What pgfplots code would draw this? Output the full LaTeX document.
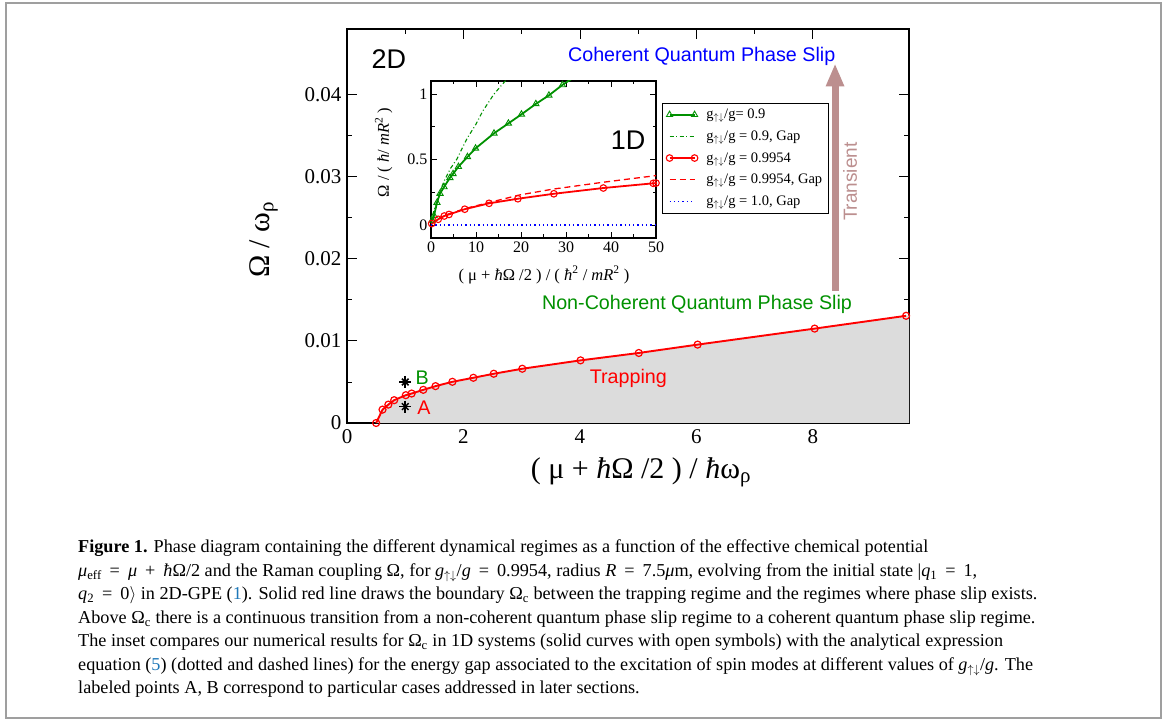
\documentclass[border=0pt]{standalone}
\usepackage{fontspec}
\setmainfont{Liberation Serif}
\newfontfamily\hv{Liberation Sans}
\usepackage{pgfplots}
\pgfplotsset{compat=1.18}
\usetikzlibrary{arrows.meta}
\definecolor{myred}{RGB}{255,0,0}
\definecolor{mygreen}{RGB}{0,145,0}
\definecolor{myblue}{RGB}{0,0,255}
\definecolor{rosy}{RGB}{188,143,143}
\definecolor{fillgray}{RGB}{220,220,220}
\definecolor{linkblue}{RGB}{30,120,185}
\newcommand{\fs}[1]{\fontsize{#1pt}{#1pt}\selectfont}
\newcommand{\hb}{\textit{ħ}}
\newcommand{\eq}{\hspace{8pt}=\hspace{8pt}}
\newcommand{\pl}{\hspace{8pt}+\hspace{8pt}}
\pgfplotsset{
 marklegend/.style={legend image code/.code={\draw[##1] plot coordinates {(0pt,0pt) (25pt,0pt)}; \path (34pt,0pt);}},
 linelegend/.style={legend image code/.code={\draw[##1] (0pt,0pt) -- (25pt,0pt); \path (34pt,0pt);}},
}
\begin{document}
\begin{tikzpicture}
\useasboundingbox (0,0) rectangle (1165pt,720pt);
\fill[white] (0,0) rectangle (1165pt,720pt);
\draw[gray!75, line width=2pt] (6pt,2pt) rectangle (1161pt,717pt);

% ---------------- main axis ----------------
\begin{axis}[
  at={(347pt,297pt)}, anchor=south west,
  width=562pt, height=394pt, scale only axis,
  xmin=0, xmax=9.65, ymin=0, ymax=0.048,
  xtick={0,2,4,6,8}, minor x tick num=1,
  ytick={0,0.01,0.02,0.03,0.04}, minor y tick num=1,
  yticklabels={0,0.01,0.02,0.03,0.04},
  xticklabels={0,2,4,6,8},
  scaled y ticks=false,
  tick align=inside,
  major tick length=10pt, minor tick length=5pt,
  every tick/.style={black, line width=0.9pt},
  axis line style={line width=1.1pt},
  ticklabel style={font=\fs{21}},
  xticklabel style={yshift=-3pt},
  yticklabel style={xshift=-2pt},
  /pgf/number format/assume math mode=true,
  xlabel={( μ + \hb Ω /2 ) / \hb ω\textsubscript{ρ}},
  ylabel={Ω / ω\textsubscript{ρ}},
  label style={font=\fs{30}},
  xlabel style={at={(axis description cs:0.523,-0.125)}, anchor=center},
  ylabel style={at={(axis description cs:-0.148,0.465)}, anchor=center},
  clip=false,
]
\addplot[draw=none, fill=fillgray, forget plot] coordinates {
 (0.5,0) (0.61,0.00163) (0.71,0.00224) (0.81,0.00278) (1.01,0.00339) (1.11,0.00359)
 (1.31,0.00404) (1.52,0.00449) (1.81,0.00502) (2.17,0.00551) (2.52,0.0060)
 (3.01,0.00661) (4.01,0.00763) (5.01,0.00853) (6.02,0.00955) (8.03,0.0115)
 (9.6,0.01306) (9.65,0.0131)} \closedcycle;
\addplot[myred, line width=1.9pt, mark=o, mark size=3.5pt, mark options={fill=white, line width=1.2pt}] coordinates {
 (0.5,0) (0.61,0.00163) (0.71,0.00224) (0.81,0.00278) (1.01,0.00339) (1.11,0.00359)
 (1.31,0.00404) (1.52,0.00449) (1.81,0.00502) (2.17,0.00551) (2.52,0.0060)
 (3.01,0.00661) (4.01,0.00763) (5.01,0.00853) (6.02,0.00955) (8.03,0.0115)
 (9.6,0.01306)};
\addplot[only marks, black, mark=+, mark size=6pt, line width=1.5pt] coordinates {(1.0,0.002) (1.0,0.005)};
\addplot[only marks, black, mark=x, mark size=4.7pt, line width=1.5pt] coordinates {(1.0,0.002) (1.0,0.005)};

\draw[rosy, line width=7pt, -{Triangle[width=17pt,length=23pt]}] (axis cs:8.38,0.01606) -- (axis cs:8.38,0.0438);
\node[font=\hv\fs{27}] at (axis cs:0.72,0.0443) {2D};
\node[font=\hv\fs{19.7}, text=myblue] at (axis cs:6.09,0.0446) {Coherent Quantum Phase Slip};
\node[font=\hv\fs{19.7}, text=mygreen] at (axis cs:6.01,0.01443) {Non-Coherent Quantum Phase Slip};
\node[font=\hv\fs{19.7}, text=myred] at (axis cs:4.83,0.0054) {Trapping};
\node[font=\hv\fs{19.7}, text=myred] at (axis cs:1.32,0.0018) {A};
\node[font=\hv\fs{19.7}, text=mygreen] at (axis cs:1.29,0.0055) {B};
\node[font=\hv\fs{19}, text=rosy, rotate=90] at (axis cs:8.64,0.0294) {Transient};
\end{axis}

% ---------------- inset ----------------
\begin{axis}[
  at={(431pt,482pt)}, anchor=south west,
  width=225pt, height=157pt, scale only axis,
  axis background/.style={fill=white},
  xmin=0, xmax=50, ymin=-0.1, ymax=1.1,
  xtick={0,10,20,30,40,50}, minor x tick num=1,
  ytick={0,0.5,1}, minor y tick num=1,
  yticklabels={0,0.5,1},
  tick align=inside,
  major tick length=6pt, minor tick length=3.5pt,
  every tick/.style={black, line width=0.8pt},
  axis line style={line width=1.1pt},
  ticklabel style={font=\fs{16}},
  /pgf/number format/assume math mode=true,
  xlabel={( μ + \hb Ω /2 ) / ( \hb\textsuperscript{2} / \textit{mR}\textsuperscript{2} )},
  ylabel={Ω / ( \hb/ \textit{mR}\textsuperscript{2} )},
  label style={font=\fs{16.5}},
  xlabel style={at={(axis description cs:0.502,-0.236)}, anchor=center},
  ylabel style={at={(axis description cs:-0.21,0.545)}, anchor=center},
  legend style={at={(1.027,0.86)}, anchor=north west, draw=black, fill=white,
    font=\fs{14.5}, inner xsep=4pt, inner ysep=4pt, row sep=6.5pt},
  legend cell align=left,
]
\addplot[mygreen, line width=1.8pt, mark=triangle, mark size=3.6pt, mark options={fill=white, line width=0.9pt}, marklegend] coordinates {
 (0.25,0.035) (0.67,0.07) (1.33,0.17) (2.0,0.24) (2.9,0.29) (4.2,0.36) (4.9,0.39) (6.1,0.445)
 (8.1,0.52) (9.9,0.585) (14.0,0.70) (17.2,0.776) (20.1,0.845) (23.3,0.925) (26.2,0.99) (29.2,1.07) (32.3,1.14)};
\addlegendentry{g$_{\uparrow\downarrow}$/g= 0.9}
\addplot[mygreen, draw=mygreen, line width=1.1pt, dash pattern=on 4pt off 2.5pt on 1pt off 2.5pt, linelegend] coordinates {
 (0,0) (0.5,0.09) (1,0.15) (2,0.26) (3,0.34) (4.3,0.43) (5.7,0.50) (8,0.66) (10,0.77)
 (11.5,0.87) (14,1.0) (16.5,1.1) (17.5,1.14)};
\addlegendentry{g$_{\uparrow\downarrow}$/g = 0.9, Gap}
\addplot[myred, line width=1.8pt, mark=o, mark size=3.3pt, mark options={fill=white, line width=1.1pt}, marklegend] coordinates {
 (0.15,0.01) (1.6,0.043) (2.95,0.068) (4.0,0.08) (7.5,0.12) (12.9,0.165) (19.3,0.20)
 (27.3,0.238) (38.3,0.282) (49.4,0.318) (50,0.32)};
\addlegendentry{g$_{\uparrow\downarrow}$/g = 0.9954}
\addplot[myred, draw=myred, line width=1.3pt, dash pattern=on 6pt off 4pt, linelegend] coordinates {
 (0,0) (1,0.035) (2,0.055) (4,0.085) (7.6,0.125) (13,0.172) (19.7,0.229) (27,0.273) (38,0.325) (50,0.377)};
\addlegendentry{g$_{\uparrow\downarrow}$/g = 0.9954, Gap}
\addplot[myblue, draw=myblue, line width=1.3pt, dash pattern=on 1.3pt off 3pt, linelegend] coordinates {(0,0) (50,0)};
\addlegendentry{g$_{\uparrow\downarrow}$/g = 1.0, Gap}
\node[font=\hv\fs{27}] at (axis cs:43.8,0.65) {1D};
\end{axis}

% ---------------- caption ----------------
\begin{scope}[every node/.style={anchor=base west, inner sep=0pt, font=\fs{18.2}}]
\node at (78pt,167pt) {\textbf{Figure 1.} Phase diagram containing the different dynamical regimes as a function of the effective chemical potential};
\node at (78pt,143.5pt) {\textit{μ}\textsubscript{eff}\eq\textit{μ}\pl\hb Ω/2 and the Raman coupling Ω, for \textit{g}$_{\uparrow\downarrow}$/\textit{g}\eq 0.9954, radius \textit{R}\eq 7.5\textit{μ}m, evolving from the initial state |\textit{q}\textsubscript{1}\eq 1,};
\node at (78pt,120pt) {\textit{q}\textsubscript{2}\eq 0$\rangle$ in 2D-GPE (\textcolor{linkblue}{1}). Solid red line draws the boundary Ω\textsubscript{c} between the trapping regime and the regimes where phase slip exists.};
\node at (78pt,96.5pt) {Above Ω\textsubscript{c} there is a continuous transition from a non-coherent quantum phase slip regime to a coherent quantum phase slip regime.};
\node at (78pt,73pt) {The inset compares our numerical results for Ω\textsubscript{c} in 1D systems (solid curves with open symbols) with the analytical expression};
\node at (78pt,49.5pt) {equation (\textcolor{linkblue}{5}) (dotted and dashed lines) for the energy gap associated to the excitation of spin modes at different values of \textit{g}$_{\uparrow\downarrow}$/\textit{g}. The};
\node at (78pt,26pt) {labeled points A, B correspond to particular cases addressed in later sections.};
\end{scope}
\end{tikzpicture}
\end{document}
